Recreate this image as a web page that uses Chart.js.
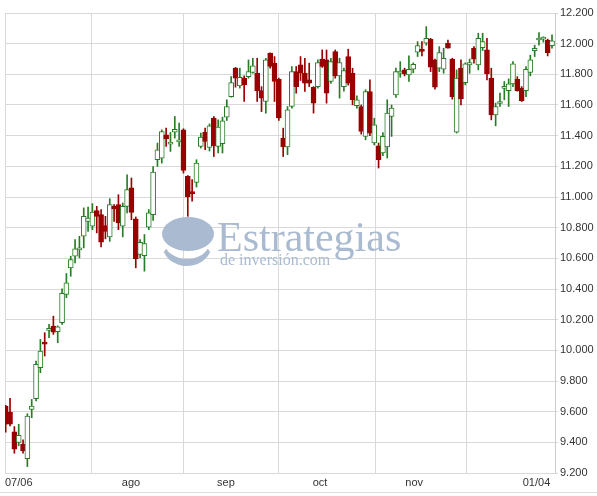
<!DOCTYPE html>
<html>
<head>
<meta charset="utf-8">
<script src="https://cdn.jsdelivr.net/npm/chart.js@4/dist/chart.umd.min.js"></script>
<style>
html,body{margin:0;padding:0;background:#fff;}
#wrap{width:597px;height:496px;position:relative;}
</style>
</head>
<body>
<div id="wrap"><canvas id="c" width="597" height="496"></canvas></div>
<script>
// ---- data (index points) ----
const openV = [9635,9598,9468,9399,9388,9294,9615,9685,9887,10050,10130,10158,10121,10180,10364,10538,10614,10655,10744,10841,
10809,10911,10885,10813,10740,10939,10950,10809,10939,11059,10857,10625,10618,10804,10885,11243,11254,11406,11345,11423,
11360,11438,11134,11030,11095,11330,11423,11323,11514,11330,11347,11521,11655,11840,11725,11775,11785,11812,11807,11694,
11623,11938,11873,11768,11384,11326,11590,11818,11862,11807,11764,11716,11720,11899,11894,11753,11948,11790,11720,11916,
11807,11595,11590,11395,11688,11352,11334,11287,11326,11525,11666,11807,11829,11796,11833,11944,11958,12003,12029,11894,
11840,11833,12003,11899,11423,11840,11746,11862,11970,11862,11974,11959,11775,11536,11610,11708,11694,11738,11768,11710,
11694,11812,11955,12024,12030,12024,11987];
const highV = [9642,9687,9503,9518,9416,9587,9680,9930,10071,10115,10169,10223,10160,10401,10501,10614,10722,10744,10929,10935,
10957,10939,10918,10874,10989,10950,11015,10961,11145,11124,10870,10722,10755,10918,11199,11352,11438,11449,11421,11525,
11482,11445,11140,11113,11243,11417,11449,11477,11525,11503,11521,11634,11785,11845,11840,11790,11894,11905,11905,11720,
11905,11940,11916,11775,11449,11590,11851,11851,11916,11905,11873,11720,11894,11959,11959,11905,11959,11905,11840,11964,
11840,11660,11600,11700,11764,11514,11352,11420,11634,11600,11840,11883,11840,11920,11875,12013,12013,12111,12035,11900,
11981,11970,12024,11905,11829,11894,11875,11900,11981,12068,12068,12035,11840,11612,11677,11753,11770,11883,11785,11720,
11850,11925,11990,12072,12045,12030,12057];
const lowV = [9466,9507,9329,9377,9329,9242,9561,9670,9854,9963,10082,10104,10050,10169,10343,10483,10570,10603,10668,10776,
10787,10766,10675,10727,10711,10841,10787,10740,10896,10852,10538,10603,10516,10787,10848,11199,11221,11330,11297,11384,
11330,11156,10874,10972,11065,11319,11308,11300,11264,11287,11287,11499,11651,11716,11710,11623,11775,11807,11623,11557,
11547,11840,11623,11500,11264,11276,11580,11677,11760,11688,11720,11547,11710,11845,11612,11740,11775,11645,11690,11730,
11601,11580,11410,11373,11400,11340,11189,11270,11254,11395,11650,11781,11790,11753,11810,11916,11920,11990,11818,11703,
11818,11807,11970,11638,11417,11601,11731,11807,11873,11829,11955,11764,11503,11464,11590,11634,11590,11720,11690,11623,
11655,11790,11916,11990,12010,11920,11970];
const closeV = [9518,9518,9355,9446,9344,9572,9637,9908,9995,10040,10136,10119,10153,10371,10440,10592,10662,10668,10874,10863,
10902,10874,10705,10776,10950,10922,10831,10939,11048,10900,10597,10705,10696,10896,11163,11307,11427,11378,11358,11442,
11364,11173,11000,11022,11222,11391,11362,11464,11334,11456,11497,11590,11746,11775,11781,11731,11818,11855,11694,11645,
11894,11851,11753,11515,11326,11569,11818,11720,11807,11742,11742,11612,11877,11851,11677,11883,11790,11877,11825,11742,
11634,11634,11427,11688,11417,11471,11243,11395,11547,11580,11818,11822,11803,11833,11866,11987,11950,12035,11846,11716,
11942,11905,11970,11655,11775,11640,11868,11877,11899,12035,12013,11803,11536,11590,11614,11712,11738,11868,11694,11629,
11833,11894,11970,12030,12034,11942,12018];
const xTickLabels = ['07/06','ago','sep','oct','nov','01/04'];
const yMin = 9200, yMax = 12200, yStep = 200;

// ---- presentation ----
const UP = '#267d26', DOWN = '#990000', GRID = '#d9d9d9';
const xMin = -0.16, xMax = 126.69;
// x tick definitions: value on index axis, label index (or -1), whether a grid line is drawn
const xTicks = [
  {v: xMin, lab: 0, grid: true},
  {v: 19.7, lab: -1, grid: true},
  {v: 28.9, lab: 1, grid: false},
  {v: 41.1, lab: -1, grid: true},
  {v: 50.8, lab: 2, grid: false},
  {v: 63.0, lab: -1, grid: true},
  {v: 72.5, lab: 3, grid: false},
  {v: 85.4, lab: -1, grid: true},
  {v: 94.2, lab: 4, grid: false},
  {v: 106.2, lab: -1, grid: true},
  {v: 125.6, lab: 5, grid: false}
];

const idx = openV.map((_, i) => i);
const up = idx.map(i => closeV[i] >= openV[i]);
const wickData = idx.map(i => ({x: i, y: [lowV[i], highV[i]]}));
const bodyData = idx.map(i => ({x: i, y: [Math.min(openV[i], closeV[i]), Math.max(openV[i], closeV[i])]}));

function fmt(v){ return String(v).replace(/\B(?=(\d{3})+(?!\d))/g, '.'); }

const watermark = {
  id: 'watermark',
  beforeDatasetsDraw(chart) {
    const ctx = chart.ctx;
    ctx.save();
    ctx.fillStyle = '#aabbd1';
    // logo bowl
    ctx.beginPath();
    ctx.ellipse(188, 234, 26, 17, 0, 0, Math.PI * 2);
    ctx.fill();
    // crescent
    ctx.beginPath();
    ctx.ellipse(187, 244, 25, 22, 0, 0.12 * Math.PI, 0.88 * Math.PI, false);
    ctx.ellipse(187, 241, 23, 18, 0, 0.86 * Math.PI, 0.14 * Math.PI, true);
    ctx.closePath();
    ctx.fill();
    ctx.font = '42px "Liberation Serif", "DejaVu Serif", serif';
    ctx.textBaseline = 'alphabetic';
    ctx.textAlign = 'left';
    ctx.fillText('Estrategias', 217, 251);
    ctx.font = '16px "Liberation Serif", "DejaVu Serif", serif';
    ctx.fillText('de inversión.com', 220, 265);
    ctx.restore();
  },
  afterDraw(chart) {
    const ctx = chart.ctx;
    ctx.save();
    ctx.strokeStyle = '#dddddd';
    ctx.lineWidth = 1;
    ctx.beginPath();
    ctx.moveTo(0, 492.5);
    ctx.lineTo(597, 492.5);
    ctx.stroke();
    ctx.restore();
  }
};

new Chart(document.getElementById('c'), {
  type: 'bar',
  data: {
    datasets: [
      {
        label: 'body',
        data: bodyData,
        order: 1,
        grouped: false,
        barThickness: 5,
        minBarLength: 2,
        backgroundColor: ctx => up[ctx.dataIndex] ? '#ffffff' : DOWN,
        borderColor: ctx => up[ctx.dataIndex] ? UP : DOWN,
        borderWidth: 1,
        borderSkipped: false
      },
      {
        label: 'wick',
        data: wickData,
        order: 2,
        grouped: false,
        barThickness: 1,
        backgroundColor: ctx => up[ctx.dataIndex] ? UP : DOWN,
        borderWidth: 0
      }
    ]
  },
  options: {
    responsive: false,
    animation: false,
    events: [],
    layout: {padding: {left: 5, top: 13, right: 0, bottom: 5}},
    plugins: {legend: {display: false}, tooltip: {enabled: false}},
    scales: {
      x: {
        type: 'linear',
        min: xMin,
        max: xMax,
        offset: false,
        afterBuildTicks: s => { s.ticks = xTicks.map(t => ({value: t.v})); },
        afterFit: s => { s.height = 18; },
        grid: {
          offset: false,
          drawTicks: false,
          color: ctx => (ctx.index !== undefined && xTicks[ctx.index] && xTicks[ctx.index].grid) ? GRID : 'rgba(0,0,0,0)',
          lineWidth: 1
        },
        border: {display: false},
        ticks: {
          autoSkip: false,
          maxRotation: 0,
          minRotation: 0,
          align: 'inner',
          padding: 3,
          color: '#333333',
          font: {family: '"Liberation Sans", Arial, sans-serif', size: 11},
          callback: (val, i) => (xTicks[i] && xTicks[i].lab >= 0) ? xTickLabels[xTicks[i].lab] : ''
        }
      },
      y: {
        position: 'right',
        min: yMin,
        max: yMax,
        afterFit: s => { s.width = 42; },
        grid: {color: GRID, tickLength: 3, lineWidth: 1},
        border: {display: true, color: '#cccccc'},
        ticks: {
          stepSize: yStep,
          padding: 2,
          color: '#333333',
          font: {family: '"Liberation Sans", Arial, sans-serif', size: 11},
          callback: v => fmt(v)
        }
      }
    }
  },
  plugins: [watermark]
});
</script>
</body>
</html>
